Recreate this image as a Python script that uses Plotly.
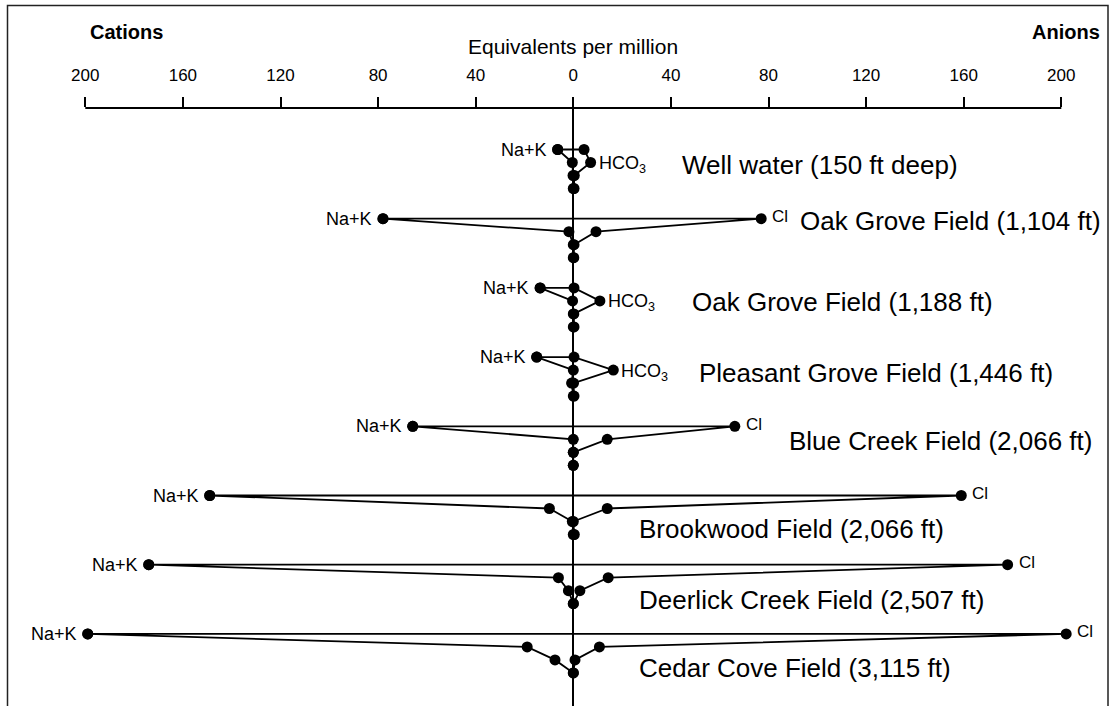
import plotly.graph_objects as go

# ---------------- data (equivalents per million) ----------------
samples = [
    "Well water (150 ft deep)",
    "Oak Grove Field (1,104 ft)",
    "Oak Grove Field (1,188 ft)",
    "Pleasant Grove Field (1,446 ft)",
    "Blue Creek Field (2,066 ft)",
    "Brookwood Field (2,066 ft)",
    "Deerlick Creek Field (2,507 ft)",
    "Cedar Cove Field (3,115 ft)",
]
# cations (plotted to the left)
na_k = [6.4, 78.0, 13.6, 15.0, 65.8, 149.0, 174.0, 199.0]
ca   = [0.4, 1.8, 0.3, 0.0, 0.0, 9.8, 6.1, 18.9]
mg   = [0.1, 0.0, 0.0, 0.7, 0.0, 0.4, 2.0, 7.5]
fe   = [0.0, 0.0, 0.0, 0.0, 0.0, 0.0, 0.0, 0.0]
# anions (plotted to the right)
cl   = [4.4, 77.0, 0.3, 0.3, 66.2, 159.0, 178.0, 202.0]
hco3 = [7.1, 9.3, 10.9, 16.4, 13.9, 13.9, 14.3, 10.7]
so4  = [0.4, 0.3, 0.2, 0.1, 0.0, 0.0, 2.7, 0.7]
co3  = [0.3, 0.2, 0.3, 0.3, 0.0, 0.4, 0.0, 0.0]

tick_vals = [-200, -160, -120, -80, -40, 0, 40, 80, 120, 160, 200]
tick_text = ["200", "160", "120", "80", "40", "0", "40", "80", "120", "160", "200"]

# ---------------- layout helpers (pixel geometry) ----------------
W, H = 1111, 706
TOP = 108                 # top of plot area (axis baseline)
ZERO_PX = 573.3
PX_PER_UNIT = 2.44
FIRST_ROW = 149.5
SAMPLE_STEP = 69.2
ROW_STEP = 13.0
label_left_px = [680, 798, 690, 697, 787, 637, 637, 637]
label_dy = [15.5, 2.3, 14.1, 15.9, 14.7, 33.5, 35.3, 34.1]

xmin = (0 - ZERO_PX) / PX_PER_UNIT
xmax = (W - ZERO_PX) / PX_PER_UNIT

def py_to_paper(py):
    return (H - py) / (H - TOP)

fig = go.Figure()
annotations = []
font_main = "Liberation Sans, Arial, Helvetica, sans-serif"

for i, name in enumerate(samples):
    y0 = FIRST_ROW + SAMPLE_STEP * i
    rows = [y0 + ROW_STEP * k for k in range(4)]
    xs = [-na_k[i], cl[i], hco3[i], so4[i], co3[i], -fe[i], -mg[i], -ca[i], -na_k[i]]
    ys = [rows[0], rows[0], rows[1], rows[2], rows[3], rows[3], rows[2], rows[1], rows[0]]
    fig.add_trace(go.Scatter(
        x=xs, y=ys, mode="lines+markers",
        line=dict(color="black", width=1.8),
        marker=dict(color="black", size=11),
        cliponaxis=False, showlegend=False, hoverinfo="skip",
    ))
    # Na+K label
    annotations.append(dict(x=-na_k[i], y=rows[0], xref="x", yref="y",
                            text="Na+K", showarrow=False, xanchor="right",
                            xshift=-9, font=dict(size=18, family=font_main, color="black")))
    # dominant anion label
    if cl[i] >= hco3[i]:
        annotations.append(dict(x=cl[i], y=rows[0] - 2, xref="x", yref="y",
                                text="Cl", showarrow=False, xanchor="left",
                                xshift=9, font=dict(size=17, family=font_main, color="black")))
    else:
        annotations.append(dict(x=hco3[i], y=rows[1] + 2, xref="x", yref="y",
                                text="HCO<sub>3</sub>", showarrow=False, xanchor="left",
                                xshift=6, font=dict(size=18, family=font_main, color="black")))
    # sample name
    annotations.append(dict(x=label_left_px[i] / W, y=y0 + label_dy[i], xref="paper", yref="y",
                            text=name, showarrow=False, xanchor="left", yanchor="middle",
                            font=dict(size=26, family=font_main, color="black")))

annotations += [
    dict(x=88 / W, y=py_to_paper(32), xref="paper", yref="paper", text="<b>Cations</b>",
         showarrow=False, xanchor="left", yanchor="middle",
         font=dict(size=20, family=font_main, color="black")),
    dict(x=1102 / W, y=py_to_paper(32), xref="paper", yref="paper", text="<b>Anions</b>",
         showarrow=False, xanchor="right", yanchor="middle",
         font=dict(size=20, family=font_main, color="black")),
    dict(x=ZERO_PX / W, y=py_to_paper(47), xref="paper", yref="paper",
         text="Equivalents per million", showarrow=False, xanchor="center", yanchor="middle",
         font=dict(size=21, family=font_main, color="black")),
]

shapes = [
    dict(type="line", xref="x", yref="paper", x0=-200, x1=200, y0=1, y1=1,
         line=dict(color="black", width=1.8)),
    dict(type="rect", xref="paper", yref="paper",
         x0=7.5 / W, x1=1108 / W, y0=py_to_paper(720), y1=py_to_paper(5.5),
         line=dict(color="#222222", width=1.5), fillcolor="rgba(0,0,0,0)"),
]

fig.update_layout(
    width=W, height=H,
    margin=dict(l=0, r=0, t=TOP, b=0),
    paper_bgcolor="white", plot_bgcolor="white",
    showlegend=False,
    annotations=annotations,
    shapes=shapes,
    xaxis=dict(range=[xmin, xmax], side="top", tickvals=tick_vals, ticktext=tick_text,
               ticks="outside", ticklen=10, tickwidth=1.8, tickcolor="black",
               showline=False, showgrid=False, zeroline=True, zerolinecolor="black",
               zerolinewidth=1.8, ticklabelstandoff=9,
               tickfont=dict(size=17, family=font_main, color="black"), fixedrange=True),
    yaxis=dict(range=[H, TOP], visible=False, fixedrange=True),
)

fig.write_html("out.html", config={"displayModeBar": False})
